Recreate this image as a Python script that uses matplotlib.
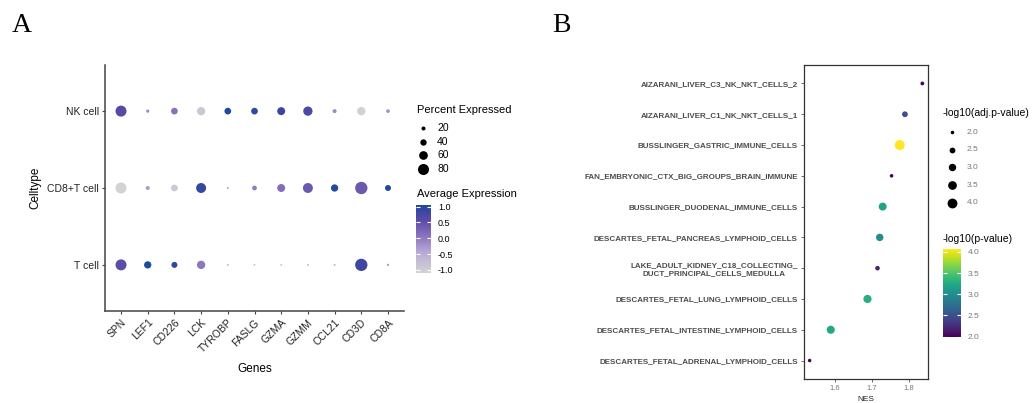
import numpy as np
import matplotlib
matplotlib.use('Agg')
import matplotlib.pyplot as plt
from matplotlib.colors import LinearSegmentedColormap, Normalize

plt.rcParams['font.family'] = ['Liberation Sans', 'DejaVu Sans']

# ---------------- Panel A data ----------------
genes = ['SPN', 'LEF1', 'CD226', 'LCK', 'TYROBP', 'FASLG', 'GZMA', 'GZMM', 'CCL21', 'CD3D', 'CD8A']
celltypes = ['T cell', 'CD8+T cell', 'NK cell']
pct_t = [80, 48, 37, 57, 2, 2, 2, 3, 3, 91, 5]
pct_cd8 = [80, 20, 43, 71, 1, 26, 54, 71, 48, 91, 37]
pct_nk = [80, 14, 43, 57, 43, 43, 54, 65, 20, 57, 17]
avg_t = [0.55, 1.05, 0.95, 0.05, -0.6, -0.8, -0.8, -0.7, -0.6, 0.8, -0.3]
avg_cd8 = [-1.1, -0.3, -0.9, 0.9, -0.2, 0.0, 0.15, 0.4, 1.0, 0.4, 1.05]
avg_nk = [0.6, -0.2, 0.1, -0.9, 1.05, 0.9, 0.85, 0.7, -0.15, -1.05, -0.2]
pct_breaks = [20, 40, 60, 80]
avg_ticks = [-1.0, -0.5, 0.0, 0.5, 1.0]

# ---------------- Panel B data ----------------
pathways = ['DESCARTES_FETAL_ADRENAL_LYMPHOID_CELLS',
            'DESCARTES_FETAL_INTESTINE_LYMPHOID_CELLS',
            'DESCARTES_FETAL_LUNG_LYMPHOID_CELLS',
            'LAKE_ADULT_KIDNEY_C18_COLLECTING_\nDUCT_PRINCIPAL_CELLS_MEDULLA',
            'DESCARTES_FETAL_PANCREAS_LYMPHOID_CELLS',
            'BUSSLINGER_DUODENAL_IMMUNE_CELLS',
            'FAN_EMBRYONIC_CTX_BIG_GROUPS_BRAIN_IMMUNE',
            'BUSSLINGER_GASTRIC_IMMUNE_CELLS',
            'AIZARANI_LIVER_C1_NK_NKT_CELLS_1',
            'AIZARANI_LIVER_C3_NK_NKT_CELLS_2']
nes = [1.532, 1.589, 1.688, 1.715, 1.721, 1.729, 1.753, 1.775, 1.789, 1.836]
neglogp = [1.99, 3.25, 3.3, 2.2, 3.0, 3.2, 2.0, 4.07, 2.5, 2.05]
nes_ticks = [1.6, 1.7, 1.8]
p_breaks = [2.0, 2.5, 3.0, 3.5, 4.0]

W, H, DPI = 1035, 403, 100
fig = plt.figure(figsize=(W / DPI, H / DPI), dpi=DPI)


def px_to_s(d):
    return (np.asarray(d, float) * 72.0 / DPI) ** 2


def pct_size(p):
    return px_to_s(1.67 + 0.117 * np.asarray(p, float))


cmap_a = LinearSegmentedColormap.from_list(
    'avg', [(0.0, '#D3D3D3'), (0.3, '#B9ABD5'), (0.55, '#8A72BC'),
            (0.78, '#5A4BA7'), (0.9, '#3E46A0'), (1.0, '#1E4B9F')])
norm_a = Normalize(vmin=-1.1, vmax=1.05)

axA = fig.add_axes([105 / W, 1 - 311 / H, 299 / W, 246 / H])
xs = np.arange(len(genes))
for i, (p, a) in enumerate([(pct_t, avg_t), (pct_cd8, avg_cd8), (pct_nk, avg_nk)]):
    axA.scatter(xs, np.full(len(genes), i), s=pct_size(p), c=a, cmap=cmap_a,
                norm=norm_a, linewidths=0, zorder=3)
axA.set_xlim(-0.6, len(genes) - 0.4)
axA.set_ylim(-0.6, len(celltypes) - 0.4)
axA.set_xticks(xs)
axA.set_xticklabels(genes, rotation=45, ha='right', rotation_mode='anchor',
                    fontsize=7.5, color='#222222')
axA.set_yticks(range(len(celltypes)))
axA.set_yticklabels(celltypes, fontsize=7.5, color='#222222')
for sp in ['top', 'right']:
    axA.spines[sp].set_visible(False)
for sp in ['left', 'bottom']:
    axA.spines[sp].set_color('#444444')
    axA.spines[sp].set_linewidth(1.1)
axA.tick_params(length=2.5, width=0.8, color='#444444', pad=2)
axA.set_xlabel('Genes', fontsize=8.5, labelpad=6)
axA.set_ylabel('Celltype', fontsize=8.5, labelpad=4)

# ---------------- Panel B ----------------
norm_b = Normalize(vmin=min(neglogp), vmax=max(neglogp))
vmin, vmax = min(neglogp), max(neglogp)


def p_size(v):
    v = np.asarray(v, float)
    d2 = 12.25 + (100 - 12.25) * (v - vmin) / (vmax - vmin)
    return px_to_s(np.sqrt(d2))


axB = fig.add_axes([804 / W, 1 - 379 / H, 124 / W, 314 / H])
ys = np.arange(len(pathways))
axB.scatter(nes, ys, s=p_size(neglogp), c=neglogp, cmap='viridis', norm=norm_b,
            linewidths=0, zorder=3)
axB.margins(x=0.05)
axB.set_ylim(-0.6, len(pathways) - 0.4)
axB.set_yticks(ys)
axB.set_yticklabels(pathways, fontsize=5.8, fontweight='bold', color='#4D4D4D',
                    multialignment='center')
axB.set_xticks(nes_ticks)
axB.set_xticklabels([f'{t:.1f}' for t in nes_ticks], fontsize=5.5, color='#777777')
axB.set_xlabel('NES', fontsize=6, labelpad=3, color='#222222')
for sp in axB.spines.values():
    sp.set_color('#333333')
    sp.set_linewidth(0.9)
axB.tick_params(length=2.5, width=0.6, color='#555555', pad=2)

# ---------------- Legends (overlay) ----------------
lg = fig.add_axes([0, 0, 1, 1], zorder=5)
lg.set_xlim(0, W)
lg.set_ylim(H, 0)
lg.axis('off')

# Panel A size legend
lg.text(417, 110, 'Percent Expressed', fontsize=8, va='center', ha='left')
for k, b in enumerate(pct_breaks):
    yy = 128 + k * 13.7
    lg.scatter([423], [yy], s=pct_size([b]), c='black', linewidths=0)
    lg.text(437, yy, str(b), fontsize=7.5, va='center', ha='left')
lg.text(417, 194, 'Average Expression', fontsize=8, va='center', ha='left')

caxA = fig.add_axes([416 / W, 1 - 273 / H, 15 / W, 68 / H])
cbA = fig.colorbar(plt.cm.ScalarMappable(norm=norm_a, cmap=cmap_a), cax=caxA)
cbA.outline.set_visible(False)
cbA.set_ticks(avg_ticks)
cbA.set_ticklabels([f'{t:.1f}' for t in avg_ticks])
caxA.tick_params(direction='in', length=3, width=0.8, color='white', left=True,
                 right=True, labelsize=6.5, pad=5)

# Panel B size legend
lg.text(943, 113, '-log10(adj.p-value)', fontsize=7.5, va='center', ha='left')
for k, b in enumerate(p_breaks):
    yy = 132 + k * 17.7
    lg.scatter([952], [yy], s=p_size([b]), c='black', linewidths=0)
    lg.text(967, yy, f'{b:.1f}', fontsize=6, va='center', ha='left', color='#777777')
lg.text(943, 239, '-log10(p-value)', fontsize=7.5, va='center', ha='left')

caxB = fig.add_axes([943 / W, 1 - 337 / H, 18 / W, 88 / H])
cbB = fig.colorbar(plt.cm.ScalarMappable(norm=norm_b, cmap='viridis'), cax=caxB)
cbB.outline.set_visible(False)
cbB.set_ticks(p_breaks)
cbB.set_ticklabels([f'{t:.1f}' for t in p_breaks])
caxB.tick_params(direction='in', length=3, width=0.8, color='white', left=True,
                 right=True, labelsize=6, pad=5, labelcolor='#777777')

# Panel letters
fig.text(12 / W, 1 - 25 / H, 'A', fontsize=20, family='Liberation Serif', va='center')
fig.text(552 / W, 1 - 25 / H, 'B', fontsize=20, family='Liberation Serif', va='center')

fig.savefig('out.png', dpi=DPI)
